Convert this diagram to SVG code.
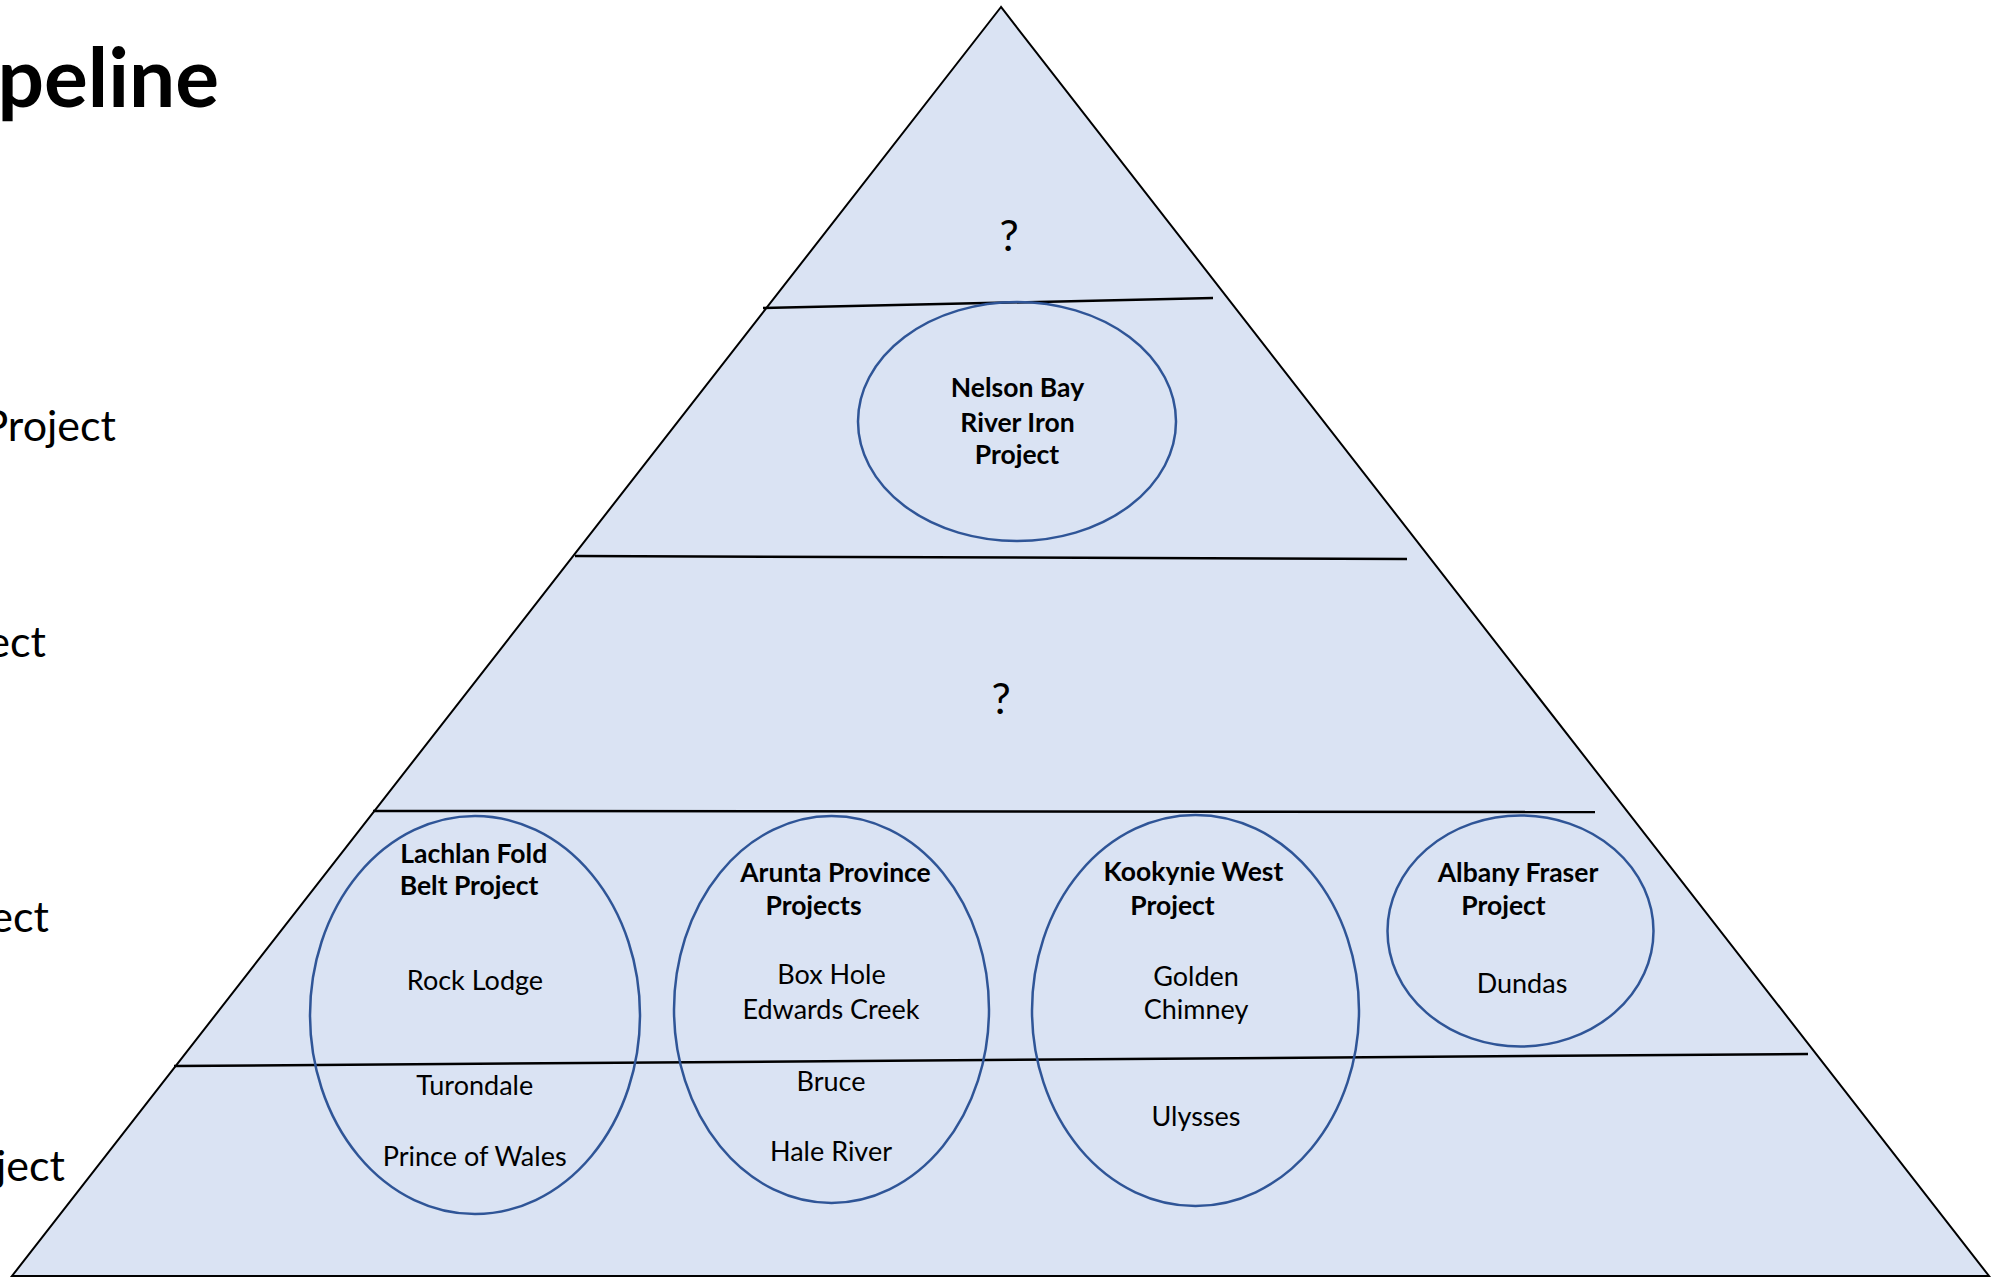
<svg xmlns="http://www.w3.org/2000/svg" width="2005" height="1278" viewBox="0 0 2005 1278">
<style>
.bg { fill:#ffffff }
.tri { fill:#DAE3F3; stroke:#000000; stroke-width:2 }
.div { stroke:#000000; stroke-width:2.5; fill:none }
.node ellipse { fill:none; stroke:#2F5597; stroke-width:2.5 }
text { font-family: Lato, "Liberation Sans", sans-serif; fill:#000000 }
.c { text-anchor:middle }
.h { font-weight:bold; font-size:26.5px }
.n { font-size:27px }
.side { font-size:43px; text-anchor:end }
.q { font-size:43px; text-anchor:middle }
.title { font-size:82px; font-weight:bold; text-anchor:end }
</style>
<rect class="bg" x="0" y="0" width="2005" height="1278"/>
<g id="title"><text class="title" x="219" y="107">peline</text></g>
<g id="side-labels">
<text class="side" x="116" y="441">Project</text>
<text class="side" x="46" y="657">ect</text>
<text class="side" x="49" y="932">ect</text>
<text class="side" x="65" y="1181">ject</text>
</g>
<g id="pyramid"><polygon class="tri" points="1001,7 12,1276 1989,1276"/></g>
<g id="connectors">
<line class="div" x1="763" y1="308" x2="1213" y2="298"/>
<line class="div" x1="575" y1="556" x2="1407" y2="559"/>
<line class="div" x1="373" y1="811" x2="1595" y2="812"/>
<line class="div" x1="174" y1="1066" x2="1808" y2="1054"/>
</g>
<g id="tier-top"><text class="q" x="1009" y="251">?</text></g>
<g id="tier-mid"><text class="q" x="1001" y="714">?</text></g>
<g id="node-nelson" class="node">
<ellipse cx="1017" cy="421.5" rx="159" ry="119.5"/>
<text class="h c" x="1017.5" y="397">Nelson Bay</text>
<text class="h c" x="1017.5" y="431.5">River Iron</text>
<text class="h c" x="1017" y="464">Project</text>
</g>
<g id="node-lachlan" class="node">
<ellipse cx="475" cy="1015" rx="165" ry="199"/>
<text class="h c" x="473.7" y="863">Lachlan Fold</text>
<text class="h c" x="469" y="895">Belt Project</text>
<text class="n c" x="475" y="990">Rock Lodge</text>
<text class="n c" x="474.7" y="1095">Turondale</text>
<text class="n c" x="474.7" y="1166">Prince of Wales</text>
</g>
<g id="node-arunta" class="node">
<ellipse cx="831.5" cy="1009.5" rx="157.5" ry="193.5"/>
<text class="h c" x="835.5" y="882">Arunta Province</text>
<text class="h c" x="813.5" y="915">Projects</text>
<text class="n c" x="831.5" y="984">Box Hole</text>
<text class="n c" x="831" y="1018.5">Edwards Creek</text>
<text class="n c" x="831" y="1091">Bruce</text>
<text class="n c" x="831" y="1160.5">Hale River</text>
</g>
<g id="node-kookynie" class="node">
<ellipse cx="1195.5" cy="1010.5" rx="163.5" ry="195.5"/>
<text class="h c" x="1193.5" y="881">Kookynie West</text>
<text class="h c" x="1172.5" y="915">Project</text>
<text class="n c" x="1196" y="985.5">Golden</text>
<text class="n c" x="1196" y="1019">Chimney</text>
<text class="n c" x="1196" y="1126">Ulysses</text>
</g>
<g id="node-albany" class="node">
<ellipse cx="1520.5" cy="931" rx="133" ry="115.5"/>
<text class="h c" x="1518" y="882">Albany Fraser</text>
<text class="h c" x="1503.5" y="915">Project</text>
<text class="n c" x="1522" y="993">Dundas</text>
</g>
</svg>
